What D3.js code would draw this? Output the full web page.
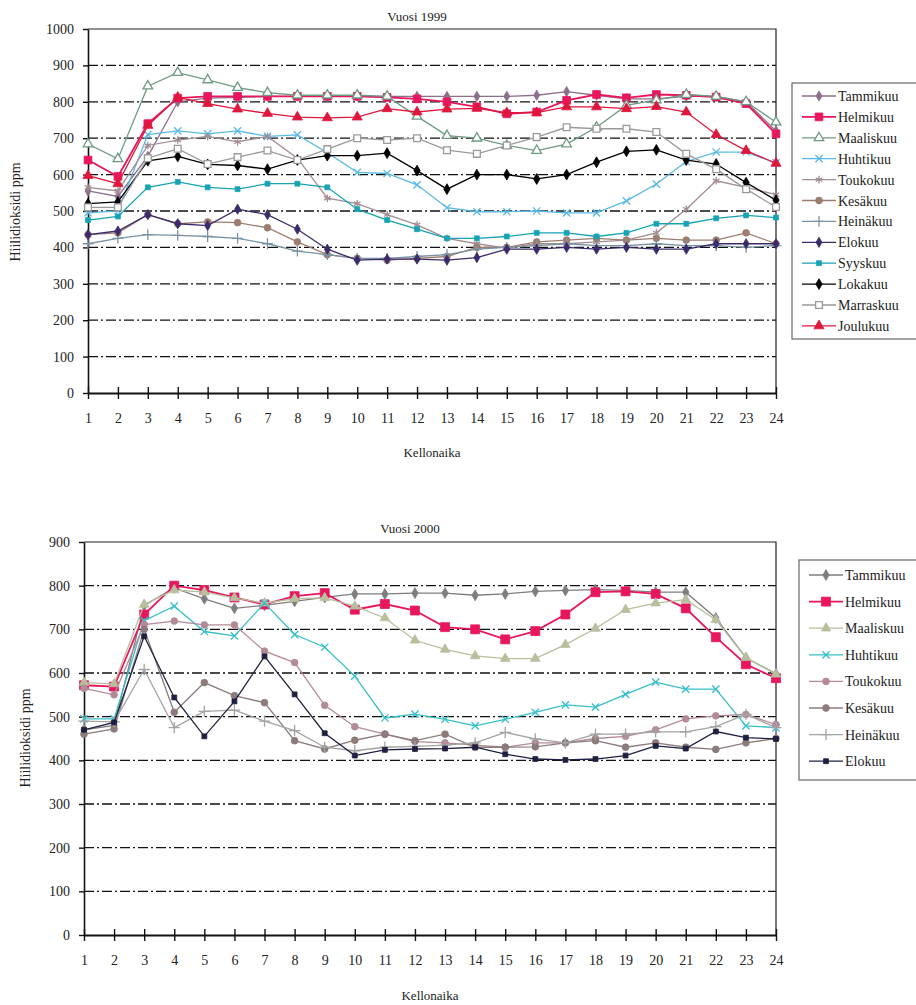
<!DOCTYPE html>
<html>
<head>
<meta charset="utf-8">
<script src="https://cdn.jsdelivr.net/npm/d3@7"></script>
<style>
  body { margin: 0; background: #fff; }
  svg text { font-family: "Liberation Serif", "DejaVu Serif", "Times New Roman", serif !important; fill: #222; }
</style>
</head>
<body>
<svg id="chart" width="916" height="1005" font-family="Liberation Serif, DejaVu Serif, serif"></svg>
<script>
// Kellonaika 1..24
const hours = [1, 2, 3, 4, 5, 6, 7, 8, 9, 10, 11, 12, 13, 14, 15, 16, 17, 18, 19, 20, 21, 22, 23, 24];

// Vuosi 1999, hiilidioksidi ppm
const tammikuu1999 = [555, 540, 650, 800, 810, 812, 815, 815, 815, 815, 815, 815, 815, 815, 815, 818, 828, 818, 808, 808, 815, 815, 800, 720];
const helmikuu1999 = [640, 595, 740, 810, 815, 815, 815, 815, 815, 815, 812, 808, 800, 786, 767, 772, 804, 820, 811, 820, 818, 813, 795, 712];
const maaliskuu1999 = [684, 643, 843, 880, 860, 839, 825, 818, 818, 818, 815, 760, 707, 700, 680, 666, 684, 730, 790, 805, 820, 815, 800, 744];
const huhtikuu1999 = [495, 500, 710, 720, 712, 720, 705, 709, 660, 606, 603, 572, 509, 498, 498, 500, 495, 495, 528, 574, 636, 662, 662, 632];
const toukokuu1999 = [565, 555, 680, 695, 705, 690, 705, 645, 535, 520, 490, 462, 425, 410, 398, 410, 410, 415, 420, 440, 505, 583, 565, 545];
const kesakuu1999 = [435, 440, 490, 465, 470, 468, 454, 415, 380, 370, 365, 370, 375, 400, 400, 415, 420, 425, 420, 425, 420, 420, 440, 410];
const heinakuu1999 = [410, 425, 435, 433, 430, 425, 410, 390, 380, 370, 370, 375, 380, 395, 400, 405, 410, 405, 405, 410, 405, 405, 400, 405];
const elokuu1999 = [435, 445, 490, 465, 460, 505, 490, 450, 395, 365, 368, 368, 365, 372, 395, 395, 400, 395, 400, 395, 395, 410, 410, 410];
const syyskuu1999 = [475, 485, 565, 580, 565, 560, 575, 575, 565, 505, 475, 450, 425, 425, 430, 440, 440, 430, 440, 465, 465, 480, 488, 482];
const lokakuu1999 = [520, 525, 638, 650, 628, 625, 615, 640, 652, 652, 659, 611, 560, 600, 600, 588, 600, 634, 664, 668, 640, 629, 578, 530];
const marraskuu1999 = [510, 510, 645, 671, 629, 648, 666, 640, 670, 700, 695, 700, 667, 657, 680, 703, 730, 726, 726, 717, 657, 615, 560, 511];
const joulukuu1999 = [597, 575, 735, 812, 795, 780, 768, 758, 756, 758, 781, 772, 780, 782, 770, 770, 786, 786, 781, 787, 772, 710, 666, 631];

// Vuosi 2000, hiilidioksidi ppm
const tammikuu2000 = [470, 480, 755, 795, 770, 748, 755, 764, 773, 781, 781, 783, 783, 778, 781, 787, 789, 791, 789, 785, 785, 726, 635, 598];
const helmikuu2000 = [572, 569, 734, 800, 790, 773, 757, 776, 783, 745, 758, 743, 705, 700, 677, 696, 734, 785, 787, 781, 748, 682, 620, 588];
const maaliskuu2000 = [578, 575, 757, 790, 785, 772, 760, 770, 772, 753, 726, 675, 654, 639, 633, 633, 665, 702, 745, 760, 768, 722, 635, 597];
const huhtikuu2000 = [495, 495, 720, 753, 695, 685, 760, 688, 659, 593, 497, 506, 494, 479, 494, 510, 527, 522, 551, 579, 563, 563, 479, 475];
const toukokuu2000 = [565, 550, 711, 719, 710, 710, 650, 624, 526, 477, 460, 443, 440, 435, 430, 440, 440, 450, 455, 470, 495, 502, 505, 482];
const kesakuu2000 = [460, 472, 700, 510, 578, 548, 532, 445, 426, 446, 460, 445, 460, 430, 430, 431, 440, 445, 430, 440, 430, 425, 440, 450];
const heinakuu2000 = [490, 488, 608, 475, 512, 515, 490, 468, 430, 422, 430, 432, 435, 440, 464, 449, 440, 460, 460, 465, 465, 477, 505, 475];
const elokuu2000 = [470, 487, 684, 544, 455, 535, 638, 551, 462, 411, 424, 426, 427, 430, 414, 403, 401, 403, 411, 433, 427, 466, 452, 449];

const months = ['Tammikuu', 'Helmikuu', 'Maaliskuu', 'Huhtikuu', 'Toukokuu', 'Kesäkuu',
  'Heinäkuu', 'Elokuu', 'Syyskuu', 'Lokakuu', 'Marraskuu', 'Joulukuu'];
const values1999 = [tammikuu1999, helmikuu1999, maaliskuu1999, huhtikuu1999, toukokuu1999, kesakuu1999,
  heinakuu1999, elokuu1999, syyskuu1999, lokakuu1999, marraskuu1999, joulukuu1999];
const values2000 = [tammikuu2000, helmikuu2000, maaliskuu2000, huhtikuu2000, toukokuu2000, kesakuu2000,
  heinakuu2000, elokuu2000];

// styles: [color, symbol, size, fill]
const styles1999 = [
  ['#8c6f8a', d3.symbolDiamond, 30, null],
  ['#e8175d', d3.symbolSquare, 60, null],
  ['#6f9a82', d3.symbolTriangle, 40, '#fff'],
  ['#5ab8e6', d3.symbolTimes, 36, null],
  ['#a28d93', d3.symbolAsterisk, 40, null],
  ['#9c7d72', d3.symbolCircle, 36, null],
  ['#7a93a3', d3.symbolPlus, 40, null],
  ['#3b2b6b', d3.symbolDiamond, 30, null],
  ['#17a3b3', d3.symbolSquare, 24, null],
  ['#000000', d3.symbolDiamond, 34, null],
  ['#9a9a9a', d3.symbolSquare, 46, '#fff'],
  ['#e0173c', d3.symbolTriangle, 44, null]
];
const styles2000 = [
  ['#7e7e7e', d3.symbolDiamond, 34, null],
  ['#e8175d', d3.symbolSquare, 80, null],
  ['#b7bf9f', d3.symbolTriangle, 40, null],
  ['#35bfc8', d3.symbolTimes, 36, null],
  ['#b38a98', d3.symbolCircle, 36, null],
  ['#8c7b7b', d3.symbolCircle, 36, null],
  ['#a3a3a3', d3.symbolPlus, 44, null],
  ['#1f2040', d3.symbolSquare, 24, null]
];

const svg = d3.select('#chart');
const serif = 'Liberation Serif, DejaVu Serif, serif';

function drawChart(cfg) {
  const g = svg.append('g');
  const x = d3.scaleLinear().domain([1, 24]).range([cfg.left, cfg.right]);
  const y = d3.scaleLinear().domain([0, cfg.yMax]).range([cfg.bottom, cfg.top]);

  // dash-dot gridlines
  g.append('g').selectAll('line')
    .data(cfg.grid)
    .join('line')
      .attr('x1', cfg.left).attr('x2', cfg.right)
      .attr('y1', d => y(d)).attr('y2', d => y(d))
      .attr('stroke', '#111')
      .attr('stroke-width', 1.3)
      .attr('stroke-dasharray', '10,3,2,3');

  // frame top + right
  g.append('path')
    .attr('d', `M${cfg.left},${y(cfg.yMax)}H${cfg.right}V${cfg.bottom}`)
    .attr('fill', 'none').attr('stroke', '#222').attr('stroke-width', 1.2);

  // Y axis
  const yAxis = d3.axisLeft(y).tickValues(cfg.yTicks).tickFormat(d3.format('d'))
    .tickSize(5).tickSizeOuter(0).tickPadding(9);
  const ya = g.append('g').attr('transform', `translate(${cfg.left},0)`).call(yAxis)
    .attr('font-family', serif);
  ya.select('.domain').attr('stroke', '#111').attr('stroke-width', 1.6);
  ya.selectAll('.tick line').attr('stroke', '#111').attr('stroke-width', 1.4);
  ya.selectAll('text').attr('font-size', 14).attr('fill', '#333');

  // X axis, ticks crossing the line
  const xAxis = d3.axisBottom(x).tickValues(hours).tickSize(6).tickSizeOuter(0).tickPadding(14);
  const xa = g.append('g').attr('transform', `translate(0,${cfg.bottom})`).call(xAxis)
    .attr('font-family', serif);
  xa.select('.domain').attr('stroke', '#111').attr('stroke-width', 1.8);
  xa.selectAll('.tick line').attr('y1', -6).attr('y2', 6).attr('stroke', '#111').attr('stroke-width', 1.4);
  xa.selectAll('text').attr('font-size', 14).attr('fill', '#333');

  // title + axis labels
  g.append('text').attr('x', cfg.titleX).attr('y', cfg.titleY)
    .attr('text-anchor', 'middle').attr('font-size', 13).text(cfg.title);
  g.append('text').attr('x', cfg.xLabelX).attr('y', cfg.xLabelY)
    .attr('text-anchor', 'middle').attr('font-size', 13).text('Kellonaika');
  g.append('text')
    .attr('transform', `translate(${cfg.yLabelX},${cfg.yLabelY}) rotate(-90)`)
    .attr('text-anchor', 'middle').attr('font-size', 14).text('Hiilidioksidi ppm');

  // series
  const line = d3.line().x((d, i) => x(hours[i])).y(d => y(d));
  cfg.values.forEach((vals, k) => {
    const [color, sym, size, fill] = cfg.styles[k];
    g.append('path').datum(vals)
      .attr('d', line)
      .attr('fill', 'none')
      .attr('stroke', color)
      .attr('stroke-width', k === 1 ? 1.8 : 1.3);
    const open = fill !== null || sym === d3.symbolTimes || sym === d3.symbolPlus || sym === d3.symbolAsterisk;
    g.append('g').selectAll('path')
      .data(vals)
      .join('path')
        .attr('transform', (d, i) => `translate(${x(hours[i])},${y(d)})`)
        .attr('d', d3.symbol().type(sym).size(size))
        .attr('fill', open ? (fill || 'none') : color)
        .attr('stroke', color)
        .attr('stroke-width', open ? 1.3 : 0.8);
  });

  // legend
  const lg = g.append('g');
  lg.append('rect')
    .attr('x', cfg.legX).attr('y', cfg.legY)
    .attr('width', cfg.legW).attr('height', cfg.legH)
    .attr('fill', '#fff').attr('stroke', '#666').attr('stroke-width', 1.2);
  cfg.names.forEach((name, k) => {
    const [color, sym, size, fill] = cfg.styles[k];
    const yy = cfg.legFirst + k * cfg.legStep;
    lg.append('line')
      .attr('x1', cfg.legX + 10).attr('x2', cfg.legX + 44)
      .attr('y1', yy).attr('y2', yy)
      .attr('stroke', color).attr('stroke-width', k === 1 ? 1.8 : 1.3);
    const open = fill !== null || sym === d3.symbolTimes || sym === d3.symbolPlus || sym === d3.symbolAsterisk;
    lg.append('path')
      .attr('transform', `translate(${cfg.legX + 27},${yy})`)
      .attr('d', d3.symbol().type(sym).size(size))
      .attr('fill', open ? (fill || 'none') : color)
      .attr('stroke', color).attr('stroke-width', open ? 1.3 : 0.8);
    lg.append('text')
      .attr('x', cfg.legX + 46).attr('y', yy + 5)
      .attr('font-size', 14).text(name);
  });
}

drawChart({
  title: 'Vuosi 1999', titleX: 417, titleY: 21,
  left: 88, right: 776, top: 29, bottom: 393, yMax: 1000,
  yTicks: [0, 100, 200, 300, 400, 500, 600, 700, 800, 900, 1000],
  grid: [100, 200, 300, 400, 500, 600, 700, 800, 900],
  xLabelX: 432, xLabelY: 457, yLabelX: 20, yLabelY: 212,
  values: values1999, styles: styles1999, names: months,
  legX: 792, legY: 83, legW: 140, legH: 256, legFirst: 96, legStep: 20.9
});

drawChart({
  title: 'Vuosi 2000', titleX: 410, titleY: 533,
  left: 84, right: 776, top: 542, bottom: 935, yMax: 900,
  yTicks: [0, 100, 200, 300, 400, 500, 600, 700, 800, 900],
  grid: [100, 200, 300, 400, 500, 600, 700, 800],
  xLabelX: 430, xLabelY: 1000, yLabelX: 30, yLabelY: 738,
  values: values2000, styles: styles2000, names: months.slice(0, 8),
  legX: 799, legY: 560, legW: 140, legH: 220, legFirst: 575, legStep: 26.6
});
</script>
</body>
</html>
